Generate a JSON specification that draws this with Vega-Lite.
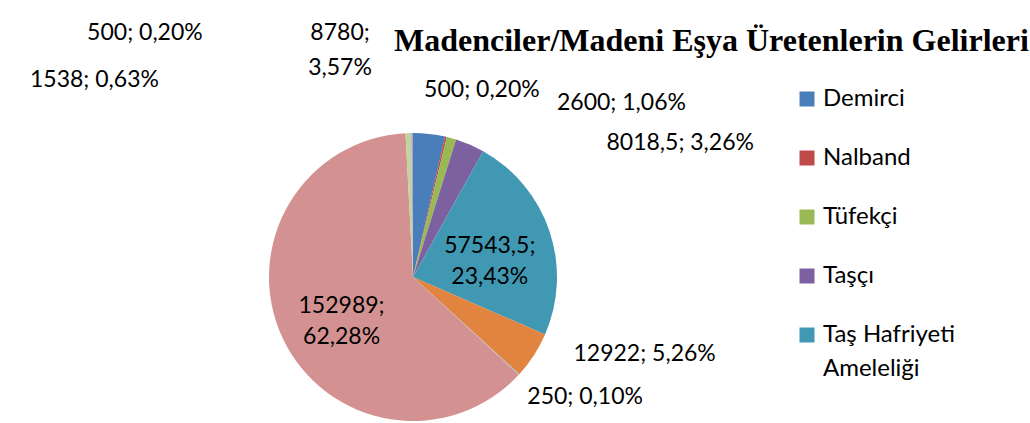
{
  "$schema": "https://vega.github.io/schema/vega-lite/v6.json",
  "width": 806,
  "height": 288,
  "autosize": "none",
  "padding": {"left": 10, "top": 133, "right": 214, "bottom": 2},
  "background": "white",
  "config": {
    "view": {"stroke": null},
    "text": {"font": "Lato", "fontSize": 23, "color": "black"}
  },
  "title": {
    "text": "Madenciler/Madeni Eşya Üretenlerin Gelirleri",
    "font": "Liberation Serif",
    "fontSize": 32,
    "fontWeight": "bold",
    "color": "black",
    "anchor": "start",
    "frame": "group",
    "dx": 384,
    "offset": 0,
    "dy": 37
  },
  "data": {
    "values": [
      {"kategori": "Demirci", "deger": 8780, "sira": 1, "etiket": "8780;\n3,57%"},
      {"kategori": "Nalband", "deger": 500, "sira": 2, "etiket": "500; 0,20%"},
      {"kategori": "Tüfekçi", "deger": 2600, "sira": 3, "etiket": "2600; 1,06%"},
      {"kategori": "Taşçı", "deger": 8018.5, "sira": 4, "etiket": "8018,5; 3,26%"},
      {"kategori": "Taş Hafriyeti Ameleliği", "deger": 57543.5, "sira": 5, "etiket": "57543,5;\n23,43%"},
      {"kategori": "Diğer 1", "deger": 12922, "sira": 6, "etiket": "12922; 5,26%"},
      {"kategori": "Diğer 2", "deger": 250, "sira": 7, "etiket": "250; 0,10%"},
      {"kategori": "Diğer 3", "deger": 152989, "sira": 8, "etiket": "152989;\n62,28%"},
      {"kategori": "Diğer 4", "deger": 1538, "sira": 9, "etiket": "1538; 0,63%"},
      {"kategori": "Diğer 5", "deger": 500, "sira": 10, "etiket": "500; 0,20%"}
    ]
  },
  "encoding": {
    "theta": {"field": "deger", "type": "quantitative", "stack": true},
    "order": {"field": "sira", "type": "quantitative"}
  },
  "layer": [
    {
      "mark": {"type": "arc", "radius": 144},
      "encoding": {
        "color": {
          "field": "kategori",
          "type": "nominal",
          "sort": null,
          "scale": {
            "domain": ["Demirci", "Nalband", "Tüfekçi", "Taşçı", "Taş Hafriyeti Ameleliği", "Diğer 1", "Diğer 2", "Diğer 3", "Diğer 4", "Diğer 5"],
            "range": ["#4A7EBB", "#BE4B48", "#98B954", "#7D60A0", "#4198B3", "#E0843F", "#A5B5D3", "#D39291", "#C0D49E", "#B3A2C7"]
          },
          "legend": {
            "values": ["Demirci", "Nalband", "Tüfekçi", "Taşçı", "Taş Hafriyeti Ameleliği"],
            "orient": "none",
            "legendX": 785,
            "legendY": -46,
            "title": null,
            "padding": 0,
            "symbolType": "square",
            "symbolSize": 225,
            "symbolStrokeWidth": 0,
            "labelFont": "Lato",
            "labelFontSize": 24,
            "labelColor": "black",
            "labelOffset": 4,
            "labelLimit": 300,
            "rowPadding": 35,
            "labelExpr": "datum.label == 'Taş Hafriyeti Ameleliği' ? ['Taş Hafriyeti', 'Ameleliği'] : datum.label",
            "encode": {"labels": {"update": {"lineHeight": {"value": 34}}}}
          }
        }
      }
    },
    {
      "mark": {"type": "text", "radius": 80, "dx": 1, "dy": -5, "lineBreak": "\n", "lineHeight": 31},
      "encoding": {"text": {"condition": {"test": "datum.kategori === 'Taş Hafriyeti Ameleliği' || datum.kategori === 'Diğer 3'", "field": "etiket"}, "value": ""}}
    },
    {
      "mark": {"type": "text", "radius": 170, "dx": -92, "dy": -75, "lineBreak": "\n", "lineHeight": 35},
      "encoding": {"text": {"condition": {"test": "datum.kategori === 'Demirci'", "field": "etiket"}, "value": ""}}
    },
    {
      "mark": {"type": "text", "radius": 170, "dx": 30, "dy": -22},
      "encoding": {"text": {"condition": {"test": "datum.kategori === 'Nalband'", "field": "etiket"}, "value": ""}}
    },
    {
      "mark": {"type": "text", "radius": 170, "dx": 163, "dy": -10},
      "encoding": {"text": {"condition": {"test": "datum.kategori === 'Tüfekçi'", "field": "etiket"}, "value": ""}}
    },
    {
      "mark": {"type": "text", "radius": 170, "dx": 200, "dy": 22},
      "encoding": {"text": {"condition": {"test": "datum.kategori === 'Taşçı'", "field": "etiket"}, "value": ""}}
    },
    {
      "mark": {"type": "text", "radius": 170, "dx": 89, "dy": -15},
      "encoding": {"text": {"condition": {"test": "datum.kategori === 'Diğer 1'", "field": "etiket"}, "value": ""}}
    },
    {
      "mark": {"type": "text", "radius": 170, "dx": 47, "dy": 5},
      "encoding": {"text": {"condition": {"test": "datum.kategori === 'Diğer 2'", "field": "etiket"}, "value": ""}}
    },
    {
      "mark": {"type": "text", "radius": 170, "dx": -313, "dy": -27},
      "encoding": {"text": {"condition": {"test": "datum.kategori === 'Diğer 4'", "field": "etiket"}, "value": ""}}
    },
    {
      "mark": {"type": "text", "radius": 170, "dx": -267, "dy": -74},
      "encoding": {"text": {"condition": {"test": "datum.kategori === 'Diğer 5'", "field": "etiket"}, "value": ""}}
    }
  ]
}
